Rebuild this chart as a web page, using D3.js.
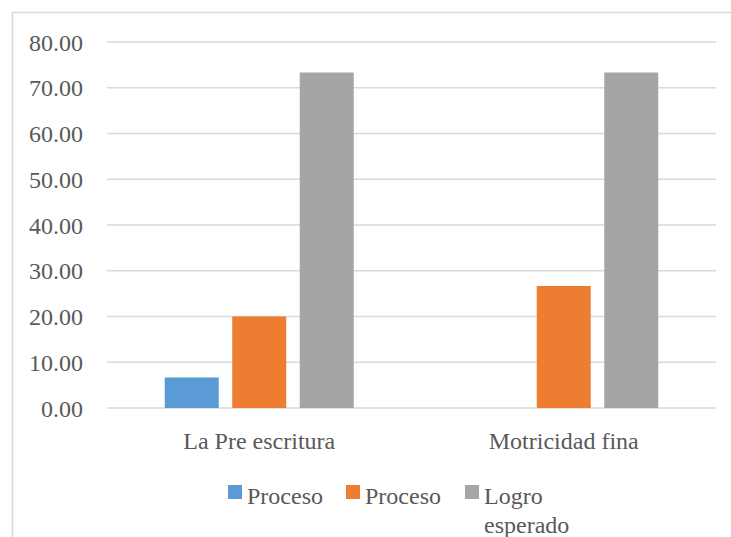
<!DOCTYPE html>
<html><head><meta charset="utf-8">
<script src="https://cdn.jsdelivr.net/npm/d3@7"></script>
<style>body{margin:0;background:#fff}</style>
</head><body><svg id="c" width="731" height="537"></svg>
<script>
const categories = ["La Pre escritura", "Motricidad fina"];
const seriesNames = ["Proceso", "Proceso", "Logro esperado"];
const seriesColors = ["#5B9BD5", "#ED7D31", "#A5A5A5"];
const proceso1 = [6.67, 0];
const proceso2 = [20.00, 26.67];
const logro = [73.33, 73.33];
const yTicks = [0, 10, 20, 30, 40, 50, 60, 70, 80];

const seriesValues = [proceso1, proceso2, logro];
const svg = d3.select("#c");
const textColor = "#595959";
const FONT = '"Liberation Serif", "Times New Roman", Times, monospace';
const FSIZE = "24px";

svg.append("rect").attr("x", 12.5).attr("y", 12.5).attr("width", 740).attr("height", 540)
  .attr("fill", "none").attr("stroke", "#d9d9d9").attr("stroke-width", 1.5);

const plotLeft = 107, plotRight = 716, plotTop = 42, plotBottom = 408;
const y = d3.scaleLinear().domain([0, 80]).range([plotBottom, plotTop]);
const x0 = d3.scaleBand().domain(categories).range([plotLeft, plotRight]);
const idx = [0, 1, 2];
const x1 = d3.scaleBand().domain(idx).range([-101.25, 101.25]).paddingInner(0.2).paddingOuter(0.1);

// gridlines
svg.append("g").selectAll("line").data(yTicks).join("line")
  .attr("x1", plotLeft).attr("x2", plotRight)
  .attr("y1", d => y(d)).attr("y2", d => y(d))
  .attr("stroke", "#d9d9d9").attr("stroke-width", 1.5);

// y axis labels
const yAxis = d3.axisLeft(y).tickValues(yTicks).tickFormat(d3.format(".2f")).tickSize(0).tickPadding(0);
const gy = svg.append("g").attr("transform", "translate(83,0)").call(yAxis);
gy.select(".domain").remove();
gy.attr("font-size", null).attr("font-family", null);
gy.selectAll("text").style("font-family", FONT).style("font-size", FSIZE).attr("fill", textColor).attr("dy", "0.34em");

// bars
const groups = svg.append("g").selectAll("g").data(categories).join("g")
  .attr("transform", d => `translate(${x0(d) + x0.bandwidth() / 2},0)`);
groups.selectAll("rect").data((c, ci) => idx.map(si => ({si, v: seriesValues[si][ci]})))
  .join("rect")
  .attr("x", d => x1(d.si)).attr("width", x1.bandwidth())
  .attr("y", d => y(d.v)).attr("height", d => y(0) - y(d.v))
  .attr("fill", d => seriesColors[d.si]);

// x axis labels
const xAxis = d3.axisBottom(x0).tickSize(0).tickPadding(0);
const gx = svg.append("g").attr("transform", "translate(0,432)").call(xAxis);
gx.select(".domain").remove();
gx.attr("font-size", null).attr("font-family", null);
gx.selectAll("text").style("font-family", FONT).style("font-size", FSIZE).attr("fill", textColor).attr("dy", "0.71em");

// legend
const legendX = [228, 346, 465];
const lg = svg.append("g").selectAll("g").data(idx).join("g")
  .attr("transform", d => `translate(${legendX[d]},485)`);
lg.append("rect").attr("width", 14).attr("height", 14).attr("fill", d => seriesColors[d]);
const lt = lg.append("text").attr("x", 19).attr("y", 19)
  .style("font-family", FONT).style("font-size", FSIZE).attr("fill", textColor);
lt.each(function(d) {
  const t = d3.select(this);
  if (d === 2) {
    t.append("tspan").attr("x", 19).text("Logro");
    t.append("tspan").attr("x", 19).attr("dy", 29).text("esperado");
  } else {
    t.text(seriesNames[d]);
  }
});
</script></body></html>
